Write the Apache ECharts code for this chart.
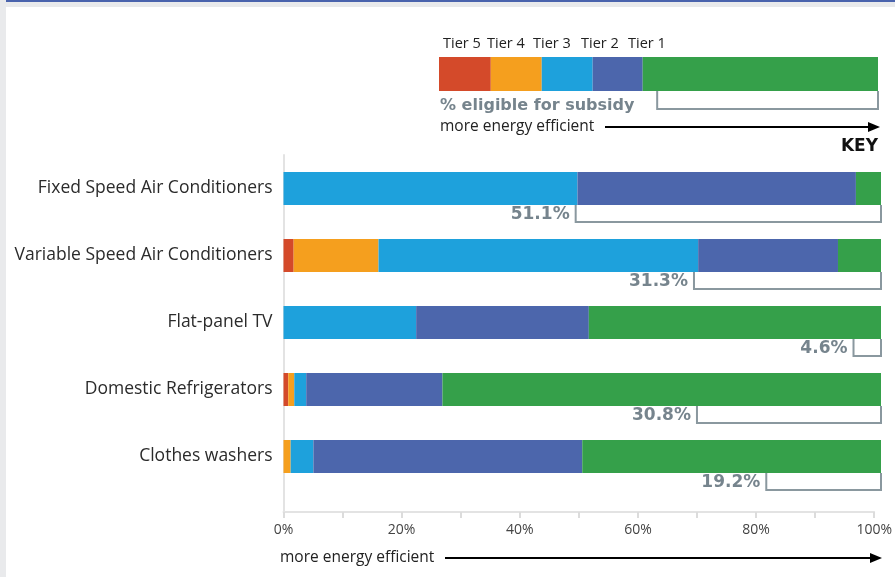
<!DOCTYPE html>
<html>
<head>
<meta charset="utf-8">
<style>
  html, body { margin: 0; padding: 0; background: #ffffff; }
  #chart { width: 895px; height: 577px; }
</style>
<script src="https://cdn.jsdelivr.net/npm/echarts@6/dist/echarts.min.js"></script>
</head>
<body>
<div id="chart"></div>
<script>
// Appliance categories, top to bottom
const categories = [
  'Fixed Speed Air Conditioners',
  'Variable Speed Air Conditioners',
  'Flat-panel TV',
  'Domestic Refrigerators',
  'Clothes washers'
];

// Share of models in each efficiency tier (%), least efficient first
const tier5 = [0, 1.7, 0, 0.8, 0];
const tier4 = [0, 14.2, 0, 1.0, 1.2];
const tier3 = [49.2, 53.5, 22.2, 2.0, 3.8];
const tier2 = [46.6, 23.4, 28.9, 22.8, 45.0];
const tier1 = [4.2, 7.2, 48.9, 73.4, 50.0];

// Share of models eligible for subsidy (%), measured from the efficient end
const eligible = [51.1, 31.3, 4.6, 30.8, 19.2];

// Key strip: illustrative tier widths and its eligibility bracket
const keyTiers = ['Tier 5', 'Tier 4', 'Tier 3', 'Tier 2', 'Tier 1'];
const keyValues = [11.8, 11.6, 11.6, 11.4, 53.6];
const keyEligible = [50.3];

// Axis ticks
const axisMax = 100;
const tickStep = 10;
const labelStep = 20;

const tierColors = ['#d44a2a', '#f59f1e', '#1ea1dc', '#4c66ac', '#35a04a'];
const bracketColor = '#8a989f';
const pctColor = '#76848d';
const textFont = '"Open Sans", "Noto Sans", sans-serif';
const boldFont = '"DejaVu Sans", "Liberation Sans", sans-serif';

const chart = echarts.init(document.getElementById('chart'), null, { renderer: 'canvas' });

// Open-top bracket under the efficient end of a bar, with its percentage label
function bracketRenderer(drawLabel, barHalf, depth) {
  return function (params, api) {
    const v = api.value(0);
    const cat = api.value(1);
    const left = api.coord([axisMax - v, cat]);
    const right = api.coord([axisMax, cat]);
    const yTop = left[1] + barHalf;
    const yBot = yTop + depth;
    const children = [{
      type: 'polyline',
      shape: { points: [[left[0], yTop], [left[0], yBot], [right[0], yBot], [right[0], yTop]] },
      style: { stroke: bracketColor, lineWidth: 2, fill: null }
    }];
    if (drawLabel) {
      children.push({
        type: 'text',
        style: {
          x: left[0] - 6, y: yTop + 10,
          text: v.toFixed(1) + '%',
          fill: pctColor,
          font: 'bold 17px ' + boldFont,
          align: 'right', verticalAlign: 'middle'
        }
      });
    }
    return { type: 'group', children: children };
  };
}

const tierSeries = [tier5, tier4, tier3, tier2, tier1].map((arr, i) => ({
  type: 'bar',
  name: keyTiers[i],
  stack: 'tiers',
  xAxisIndex: 0, yAxisIndex: 0,
  barWidth: 33,
  itemStyle: { color: tierColors[i] },
  data: arr,
  z: 3
}));

const keySeries = keyValues.map((v, i) => ({
  type: 'bar',
  stack: 'key',
  xAxisIndex: 1, yAxisIndex: 1,
  barWidth: 34,
  itemStyle: { color: tierColors[i] },
  data: [v],
  z: 3
}));

function arrow(x1, x2, y) {
  return [
    { type: 'line', shape: { x1: x1, y1: y, x2: x2 - 10, y2: y }, style: { stroke: '#000', lineWidth: 2 } },
    { type: 'polygon', shape: { points: [[x2 - 12, y - 5], [x2, y], [x2 - 12, y + 5]] }, style: { fill: '#000' } }
  ];
}

const keyLabelX = [443, 487, 533, 581, 628];

const option = {
  animation: false,
  backgroundColor: '#ffffff',
  grid: [
    { left: 283.5, right: 14, top: 155, height: 335 },   // bars
    { left: 439, top: 57, width: 439, height: 34 },      // key strip
    { left: 283.5, right: 14, top: 155, height: 357 }    // axes frame
  ],
  xAxis: [
    { gridIndex: 0, type: 'value', min: 0, max: axisMax, show: false },
    { gridIndex: 1, type: 'value', min: 0, max: axisMax, show: false },
    {
      gridIndex: 2, type: 'value', min: 0, max: axisMax, interval: tickStep,
      axisLine: { show: true, lineStyle: { color: '#e3e3e3', width: 2 } },
      axisTick: { show: true, length: 6, lineStyle: { color: '#dcdcdc', width: 2 } },
      splitLine: { show: false },
      axisLabel: {
        margin: 11, color: '#444', fontSize: 14, fontFamily: textFont,
        formatter: v => (v % labelStep === 0 ? v + '%' : '')
      }
    }
  ],
  yAxis: [
    {
      gridIndex: 0, type: 'category', data: categories, inverse: true,
      axisLine: { show: false }, axisTick: { show: false },
      axisLabel: { margin: 11, color: '#2b2b2b', fontSize: 17.5, fontFamily: textFont }
    },
    { gridIndex: 1, type: 'category', data: ['key'], show: false },
    {
      gridIndex: 2, type: 'value', min: 0, max: 1,
      axisLine: { show: true, lineStyle: { color: '#e3e3e3', width: 2 } },
      axisTick: { show: false }, axisLabel: { show: false }, splitLine: { show: false }
    }
  ],
  series: [
    {
      type: 'custom',
      xAxisIndex: 0, yAxisIndex: 0,
      renderItem: bracketRenderer(true, 16.5, 17),
      data: eligible.map((v, i) => [v, i]),
      z: 2
    },
    ...tierSeries,
    {
      type: 'custom',
      xAxisIndex: 1, yAxisIndex: 1,
      renderItem: bracketRenderer(false, 17, 18),
      data: keyEligible.map(v => [v, 0]),
      z: 2
    },
    ...keySeries
  ],
  graphic: [
    // page frame
    { type: 'rect', shape: { x: 0, y: 0, width: 6, height: 577 }, style: { fill: '#e9eaec' }, silent: true },
    { type: 'rect', shape: { x: 0, y: 0, width: 895, height: 7 }, style: { fill: '#e9eaec' }, silent: true },
    { type: 'rect', shape: { x: 6, y: 0, width: 889, height: 2 }, style: { fill: '#4a63ad' }, silent: true },
    // key captions
    ...keyTiers.map((t, i) => ({
      type: 'text', style: { x: keyLabelX[i], y: 44, text: t, fill: '#222', font: '14.5px ' + textFont, verticalAlign: 'middle' }
    })),
    { type: 'text', style: { x: 440, y: 106, text: '% eligible for subsidy', fill: pctColor, font: 'bold 16px ' + boldFont, verticalAlign: 'middle' } },
    { type: 'text', style: { x: 440, y: 127, text: 'more energy efficient', fill: '#222', font: '15.5px ' + textFont, verticalAlign: 'middle' } },
    { type: 'group', children: arrow(605, 880, 127) },
    { type: 'text', style: { x: 878, y: 147, text: 'KEY', fill: '#111', font: 'bold 17px ' + boldFont, align: 'right', verticalAlign: 'middle' } },
    // axis caption
    { type: 'text', style: { x: 280, y: 558, text: 'more energy efficient', fill: '#222', font: '15.5px ' + textFont, verticalAlign: 'middle' } },
    { type: 'group', children: arrow(445, 882, 558) }
  ]
};

chart.setOption(option);
</script>
</body>
</html>
